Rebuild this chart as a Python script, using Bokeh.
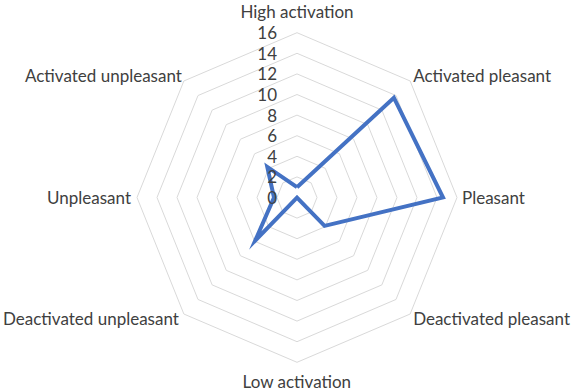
import numpy as np
from bokeh.plotting import figure
from bokeh.models import Range1d, ColumnDataSource
from bokeh.core.properties import value
from bokeh.embed import file_html
from bokeh.resources import INLINE

# ---- data ----
categories = ["High activation", "Activated pleasant", "Pleasant", "Deactivated pleasant",
              "Low activation", "Deactivated unpleasant", "Unpleasant", "Activated unpleasant"]
values = [1.0, 13.7, 14.6, 3.9, 0.0, 5.9, 2.3, 4.2]
tick_values = [0, 2, 4, 6, 8, 10, 12, 14, 16]
tick_labels = ["0", "2", "4", "6", "8", "10", "12", "14", "16"]
r_max = 16

# ---- layout ----
W, H = 573, 391
cx, cy = 296.5, 197.0      # centre in pixels
sx, sy = 10.0, 10.3        # pixels per unit

p = figure(width=W, height=H, output_backend="svg", toolbar_location=None,
           x_range=Range1d(-cx / sx, (W - cx) / sx),
           y_range=Range1d(-(H - cy) / sy, cy / sy),
           min_border=0, outline_line_color=None)
p.axis.visible = False
p.grid.visible = False
p.background_fill_color = "white"
p.border_fill_color = "white"

n = len(categories)
theta = np.arange(n) * 2 * np.pi / n

# grid rings
for t in tick_values[1:]:
    xs = list(t * np.sin(theta)) + [t * np.sin(theta[0])]
    ys = list(t * np.cos(theta)) + [t * np.cos(theta[0])]
    p.line(xs, ys, line_color="#d9d9d9", line_width=1)

# data line
v = np.array(values)
dx = list(v * np.sin(theta)) + [v[0] * np.sin(theta[0])]
dy = list(v * np.cos(theta)) + [v[0] * np.cos(theta[0])]
p.line(dx, dy, line_color="#4472C4", line_width=4, line_join="miter")

font = value("Lato")
col = "#404040"
fs = "17px"

# tick labels
p.text(x=[0] * len(tick_values), y=tick_values, text=tick_labels,
       text_align="right", text_baseline="middle", x_offset=-20,
       text_font=font, text_font_size=fs, text_color=col)

# category labels
aligns = ["center", "left", "left", "left", "center", "right", "right", "right"]
x_offs = [0, 3, 5, 3, 0, -5, -6, -2]
y_offs = [-21, -5, 0, 4, 19, 4, 0, -5]
for k in range(n):
    p.text(x=[r_max * np.sin(theta[k])], y=[r_max * np.cos(theta[k])], text=[categories[k]],
           text_align=aligns[k], text_baseline="middle",
           x_offset=x_offs[k], y_offset=y_offs[k],
           text_font=font, text_font_size=fs, text_color=col)

open("out.html", "w").write(file_html(p, INLINE))
